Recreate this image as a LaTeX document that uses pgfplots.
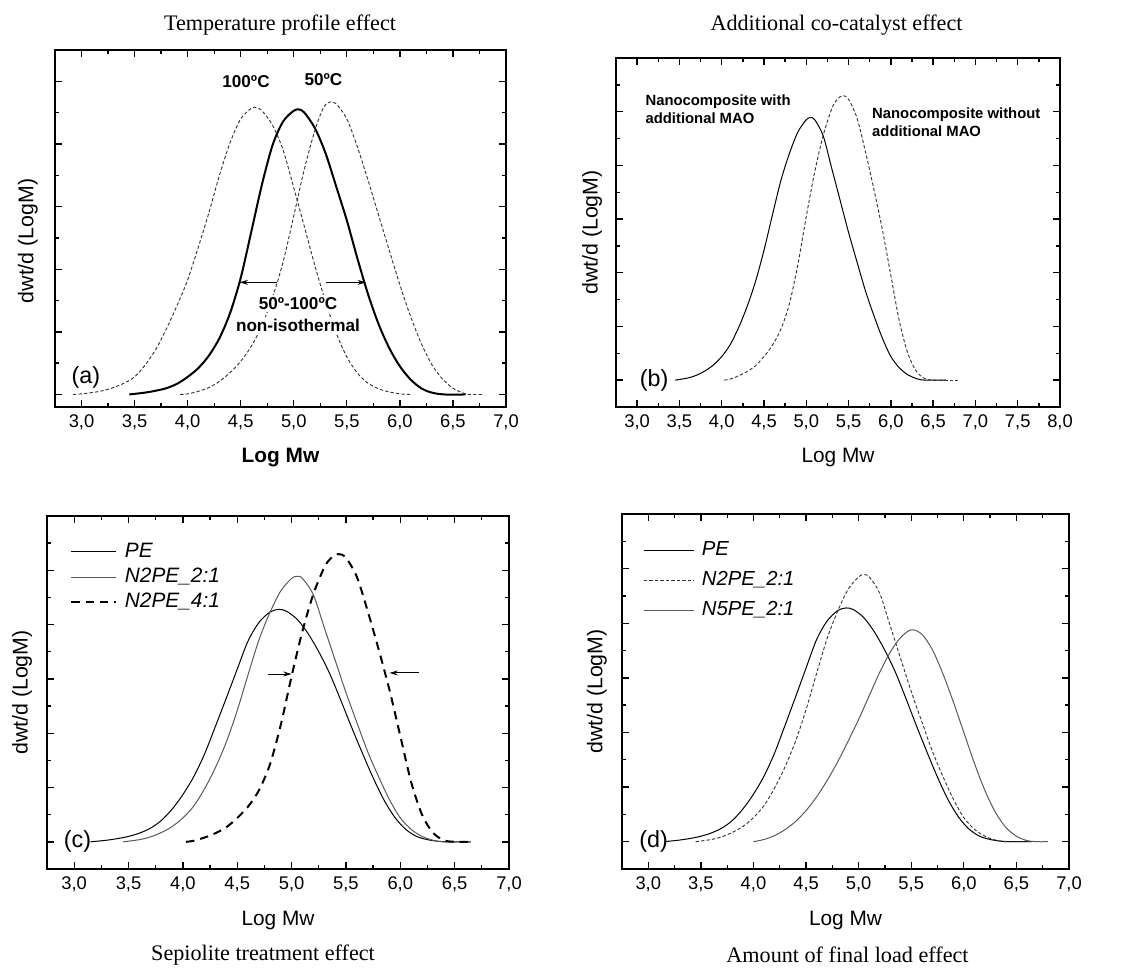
\documentclass[border=0pt]{standalone}
\usepackage{fontspec}
\setmainfont{Liberation Sans}
\newfontfamily\titlefont{Liberation Serif}
\usepackage{pgfplots}
\pgfplotsset{compat=1.18}
\usetikzlibrary{arrows.meta}

\pgfplotstableread{
x y
3.15 0
3.3 0.03
3.4 0.06
3.5 0.1
3.6 0.16
3.7 0.25
3.8 0.39
3.9 0.6
4.0 0.87
4.1 1.2
4.2 1.62
4.3 2.13
4.4 2.65
4.5 3.18
4.6 3.7
4.7 4.04
4.8 4.23
4.88 4.28
4.95 4.25
5.05 4.1
5.15 3.84
5.25 3.5
5.35 3.1
5.45 2.62
5.55 2.12
5.65 1.64
5.75 1.18
5.85 0.77
5.95 0.45
6.05 0.23
6.15 0.1
6.25 0.04
6.35 0.01
6.45 0
6.65 0
}\tabPE

\pgfplotstableread{
x y
3.45 0
3.6 0.04
3.7 0.09
3.8 0.17
3.9 0.28
4.0 0.44
4.1 0.66
4.2 0.98
4.3 1.37
4.4 1.84
4.5 2.42
4.6 3.08
4.7 3.72
4.8 4.22
4.9 4.62
5.0 4.85
5.05 4.89
5.1 4.85
5.2 4.55
5.3 3.95
5.4 3.35
5.5 2.75
5.6 2.2
5.7 1.66
5.8 1.2
5.9 0.78
6.0 0.44
6.1 0.23
6.2 0.1
6.3 0.03
6.4 0
6.65 0
}\tabNtwo

\pgfplotstableread{
x y
4.03 0
4.1 0.02
4.2 0.08
4.3 0.16
4.4 0.27
4.5 0.44
4.6 0.65
4.7 0.95
4.8 1.42
4.9 2.15
5.0 3.05
5.1 3.88
5.2 4.56
5.3 5.05
5.36 5.22
5.43 5.3
5.5 5.23
5.6 4.88
5.7 4.25
5.8 3.55
5.9 2.8
6.0 1.95
6.1 1.1
6.2 0.5
6.3 0.17
6.4 0.03
6.5 0
6.65 0
}\tabNfour

\pgfplotstableread{
x y
4.0 0
4.1 0.04
4.2 0.11
4.3 0.22
4.4 0.37
4.5 0.57
4.6 0.82
4.7 1.12
4.8 1.46
4.9 1.84
5.0 2.24
5.1 2.67
5.2 3.1
5.3 3.47
5.4 3.74
5.5 3.88
5.6 3.8
5.7 3.52
5.8 3.08
5.9 2.56
6.0 2.0
6.1 1.44
6.2 0.94
6.3 0.54
6.4 0.26
6.5 0.1
6.6 0.02
6.7 0
6.8 0
}\tabNfive

\pgfplotsset{
  gpc/.style={
    scale only axis, anchor=south west,
    xmin=2.75, xmax=7.0, ymin=-0.5, ymax=6.0,
    xtick distance=0.5, minor x tick num=1,
    ytick distance=1, minor y tick num=1,
    yticklabels={},
    tick align=inside,
    major tick length=4pt, minor tick length=2.4pt,
    every tick/.style={black, line width=0.8pt},
    axis line style={line width=1.1pt},
    xticklabel style={font=\fontsize{11}{13}\selectfont, yshift=-1pt, /pgf/number format/.cd, fixed, fixed zerofill, precision=1, use comma, assume math mode=true},
    xlabel style={font=\fontsize{12.5}{14}\selectfont, at={(axis description cs:0.5,0)}, anchor=center, yshift=-30.6pt},
    ylabel style={font=\fontsize{12.8}{14}\selectfont, anchor=center},
    ylabel={dwt/d (LogM)},
    xlabel={Log Mw},
    legend image code/.code={\draw[#1] (0pt,0pt) -- (27pt,0pt);},
  },
  thinsolid/.style={black, line width=0.6pt, smooth},
  greysolid/.style={black!65, line width=0.6pt, smooth},
  finedash/.style={black!80, line width=0.55pt, dash pattern=on 2pt off 1.3pt, smooth},
  bigdash/.style={black, line width=1.2pt, dash pattern=on 5pt off 3.6pt, smooth},
}

\begin{document}
\begin{tikzpicture}
\path[use as bounding box] (0,0) rectangle (672.6pt,580.8pt);

% ---------------- (a) ----------------
\begin{axis}[gpc, at={(33pt,336.6pt)}, width=270.6pt, height=214.2pt,
  ymin=-0.2, ymax=5.5,
  xlabel style={font=\bfseries\fontsize{12.5}{14}\selectfont},
  ylabel style={at={(axis description cs:-0.06,0.465)}}]
\addplot[finedash] coordinates {
(2.92,0) (3.0,0.01) (3.1,0.03) (3.2,0.06) (3.3,0.11) (3.4,0.18) (3.5,0.28)
(3.6,0.47) (3.7,0.72) (3.8,1.05) (3.9,1.42) (4.0,1.83) (4.1,2.35) (4.2,2.9)
(4.3,3.5) (4.4,4.02) (4.5,4.4) (4.6,4.57) (4.65,4.58) (4.7,4.53) (4.8,4.3)
(4.9,3.9) (5.0,3.3) (5.1,2.68) (5.2,2.05) (5.3,1.48) (5.4,0.98) (5.5,0.6)
(5.6,0.34) (5.7,0.18) (5.8,0.09) (5.9,0.04) (6.0,0.01) (6.1,0)};
\addplot[black, line width=1.2pt, smooth] coordinates {
(3.45,0) (3.6,0.03) (3.7,0.06) (3.8,0.1) (3.9,0.17) (4.0,0.28) (4.1,0.42)
(4.2,0.62) (4.3,0.9) (4.4,1.3) (4.5,1.86) (4.6,2.6) (4.7,3.35) (4.8,3.98)
(4.9,4.36) (5.0,4.53) (5.05,4.55) (5.1,4.5) (5.2,4.25) (5.3,3.85) (5.4,3.32)
(5.5,2.78) (5.6,2.17) (5.7,1.6) (5.8,1.12) (5.9,0.74) (6.0,0.45) (6.1,0.24)
(6.2,0.1) (6.3,0.03) (6.42,0) (6.62,0)};
\addplot[finedash] coordinates {
(3.93,0) (4.0,0.01) (4.1,0.05) (4.2,0.11) (4.3,0.21) (4.4,0.35) (4.5,0.53)
(4.6,0.77) (4.7,1.1) (4.8,1.55) (4.9,2.12) (5.0,2.85) (5.1,3.6) (5.2,4.22)
(5.28,4.58) (5.34,4.67) (5.4,4.64) (5.5,4.4) (5.6,3.95) (5.7,3.42) (5.8,2.86)
(5.9,2.3) (6.0,1.75) (6.1,1.25) (6.2,0.82) (6.3,0.48) (6.4,0.25) (6.5,0.1)
(6.6,0.02) (6.65,0) (6.78,0)};
\draw[-{Stealth[length=5pt,width=3pt]}, line width=0.6pt] (axis cs:4.84,1.79) -- (axis cs:4.49,1.79);
\draw[-{Stealth[length=5pt,width=3pt]}, line width=0.6pt] (axis cs:5.30,1.79) -- (axis cs:5.68,1.79);
\node[font=\bfseries\fontsize{10.3}{12}\selectfont] at (axis cs:4.55,5.0) {100ºC};
\node[font=\bfseries\fontsize{10.3}{12}\selectfont] at (axis cs:5.28,5.03) {50ºC};
\node[font=\bfseries\fontsize{10.3}{12}\selectfont, fill=white, inner sep=1.5pt] at (axis cs:5.04,1.45) {50º-100ºC};
\node[font=\bfseries\fontsize{10.3}{12}\selectfont, fill=white, inner sep=1pt] at (axis cs:5.04,1.11) {non-isothermal};
\node[font=\fontsize{14}{16}\selectfont] at (axis cs:3.04,0.27) {(a)};
\end{axis}

% ---------------- (b) ----------------
\begin{axis}[gpc, at={(369.6pt,336.6pt)}, width=266.4pt, height=209.4pt,
  xmax=8.0,
  ylabel style={at={(axis description cs:-0.054,0.5)}}]
\addplot[thinsolid] table {\tabNtwo};
\addplot[finedash] table {\tabNfour};
\addplot[finedash] coordinates {(6.5,0) (6.82,0)};
\node[font=\bfseries\fontsize{8.9}{10.6}\selectfont, align=left, anchor=west] at (axis cs:3.03,5.05) {Nanocomposite with\\additional MAO};
\node[font=\bfseries\fontsize{8.9}{10.6}\selectfont, align=left, anchor=west] at (axis cs:5.71,4.81) {Nanocomposite without\\additional MAO};
\node[font=\fontsize{14}{16}\selectfont] at (axis cs:3.2,0) {(b)};
\end{axis}

% ---------------- (c) ----------------
\begin{axis}[gpc, at={(28.2pt,59.4pt)}, width=277.2pt, height=211.8pt,
  ylabel style={at={(axis description cs:-0.054,0.5)}},
  legend style={draw=none, fill=none, inner sep=0pt, at={(axis description cs:0.05,0.827)}, anchor=west,
    font=\itshape\fontsize{12.5}{14}\selectfont, row sep=2.6pt,
    nodes={text height=9pt, text depth=2.5pt, inner sep=0.5pt},
    /tikz/every odd column/.append style={column sep=4pt}},
  legend cell align=left]
\addplot[thinsolid] table {\tabPE};
\addlegendentry{PE}
\addplot[greysolid] table {\tabNtwo};
\addlegendentry{N2PE\_2:1}
\addplot[bigdash] table {\tabNfour};
\addlegendentry{N2PE\_4:1}
\draw[-{Stealth[length=5pt,width=3pt]}, line width=0.6pt] (axis cs:4.78,3.09) -- (axis cs:5.0,3.09);
\draw[-{Stealth[length=5pt,width=3pt]}, line width=0.6pt] (axis cs:6.17,3.11) -- (axis cs:5.90,3.11);
\node[font=\fontsize{14}{16}\selectfont] at (axis cs:3.03,0) {(c)};
\end{axis}

% ---------------- (d) ----------------
\begin{axis}[gpc, at={(373.2pt,59.4pt)}, width=268.2pt, height=213pt,
  ylabel style={at={(axis description cs:-0.056,0.5)}},
  legend style={draw=none, fill=none, inner sep=0pt, at={(axis description cs:0.047,0.814)}, anchor=west,
    font=\itshape\fontsize{12.2}{14}\selectfont, row sep=5.5pt,
    nodes={text height=9pt, text depth=2.5pt, inner sep=0.5pt},
    /tikz/every odd column/.append style={column sep=4pt}},
  legend cell align=left,
  legend image code/.code={\draw[#1] (0pt,0pt) -- (30pt,0pt);}]
\addplot[thinsolid] table {\tabPE};
\addlegendentry{PE}
\addplot[finedash] table {\tabNtwo};
\addlegendentry{N2PE\_2:1}
\addplot[greysolid] table {\tabNfive};
\addlegendentry{N5PE\_2:1}
\node[font=\fontsize{14}{16}\selectfont] at (axis cs:3.05,0) {(d)};
\end{axis}

% ---------------- titles ----------------
\node[font=\titlefont\fontsize{13.3}{15}\selectfont] at (168pt,565.8pt) {Temperature profile effect};
\node[font=\titlefont\fontsize{13.3}{15}\selectfont] at (501.9pt,565.8pt) {Additional co-catalyst effect};
\node[font=\titlefont\fontsize{13.3}{15}\selectfont] at (157.8pt,7.8pt) {Sepiolite treatment effect};
\node[font=\titlefont\fontsize{13.3}{15}\selectfont] at (508.5pt,7.8pt) {Amount of final load effect};
\end{tikzpicture}
\end{document}
